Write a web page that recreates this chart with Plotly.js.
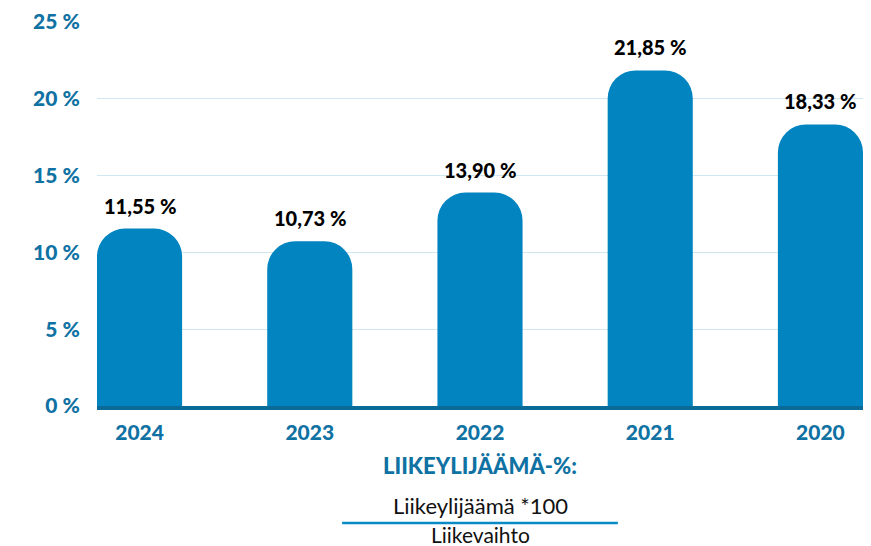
<!DOCTYPE html>
<html>
<head>
<meta charset="utf-8">
<script src="https://cdn.plot.ly/plotly-3.0.1.min.js"></script>
<style>html,body{margin:0;padding:0;background:#fff;}#chart{width:871px;height:546px;}</style>
</head>
<body>
<div id="chart"></div>
<script>
const years = ["2024", "2023", "2022", "2021", "2020"];
const values = [11.55, 10.73, 13.90, 21.85, 18.33];
const yTicks = [0, 5, 10, 15, 20, 25];

const fmt = v => v.toFixed(2).replace('.', ',') + ' %';
const FONT = 'Lato, "Open Sans", sans-serif';
const BLUE_TXT = '#0f72a3';

const trace = {
  type: 'bar',
  x: years,
  y: values,
  width: 0.5,
  marker: { color: '#0284c0', cornerradius: 28, line: { width: 0 } },
  hoverinfo: 'none'
};

const annotations = years.map((yr, i) => ({
  x: i, y: values[i], xref: 'x', yref: 'y',
  text: fmt(values[i]), showarrow: false, yshift: 23,
  font: { family: FONT, size: 20, color: '#000', weight: 900 }
}));

annotations.push(
  { xref: 'paper', yref: 'paper', x: 0.5, y: -0.156, yanchor: 'middle', text: 'LIIKEYLIJÄÄMÄ-%:', showarrow: false,
    font: { family: FONT, size: 22, color: BLUE_TXT, weight: 900 } },
  { xref: 'paper', yref: 'paper', x: 0.5, y: -0.258, yanchor: 'middle', text: 'Liikeylijäämä *100', showarrow: false,
    font: { family: FONT, size: 22, color: '#111' } },
  { xref: 'paper', yref: 'paper', x: 0.5, y: -0.334, yanchor: 'middle', text: 'Liikevaihto', showarrow: false,
    font: { family: FONT, size: 21, color: '#111' } }
);

const layout = {
  width: 871, height: 546,
  margin: { l: 97, r: 8, t: 22, b: 140 },
  paper_bgcolor: '#fff', plot_bgcolor: '#fff',
  showlegend: false,
  xaxis: {
    type: 'category',
    range: [-0.25, 4.25],
    showline: true, linecolor: '#0b6b98', linewidth: 4,
    ticks: 'outside', ticklen: 5, tickcolor: 'rgba(0,0,0,0)',
    tickfont: { family: FONT, size: 21, color: BLUE_TXT, weight: 900 },
    showgrid: false, fixedrange: true
  },
  yaxis: {
    range: [0, 25],
    tickvals: yTicks,
    ticktext: yTicks.map(t => t + ' %'),
    showgrid: true, gridcolor: '#cfe7f1', gridwidth: 1,
    zeroline: false, showline: false,
    ticks: 'outside', ticklen: 12, tickcolor: 'rgba(0,0,0,0)',
    tickfont: { family: FONT, size: 21, color: BLUE_TXT, weight: 900 },
    fixedrange: true
  },
  shapes: [{
    type: 'line', xref: 'paper', yref: 'paper',
    x0: 0.32, x1: 0.68, y0: -0.305, y1: -0.305,
    line: { color: '#0a8ac4', width: 2.5 }
  }],
  annotations: annotations
};

Plotly.newPlot('chart', [trace], layout, { displayModeBar: false, staticPlot: true });
</script>
</body>
</html>
